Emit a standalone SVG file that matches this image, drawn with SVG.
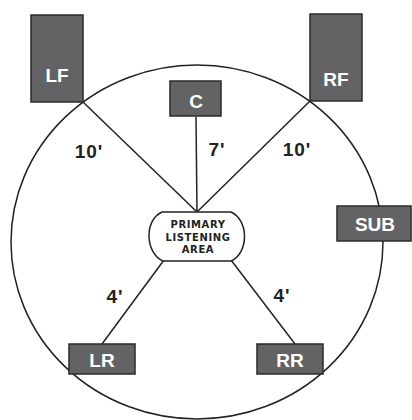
<svg xmlns="http://www.w3.org/2000/svg" width="412" height="420" viewBox="0 0 412 420">
<style>
.spk{fill:#636365;stroke:#2a2a2a;stroke-width:1.5}
.lbl{font-family:"Liberation Sans",Arial,sans-serif;font-weight:bold;font-size:19px;fill:#ffffff;text-anchor:middle}
.dim{font-family:"Liberation Sans",Arial,sans-serif;font-weight:bold;font-size:19px;fill:#222222;text-anchor:middle;letter-spacing:1px}
.ln{stroke:#222222;stroke-width:1.5;fill:none}
.pla{font-family:"DejaVu Sans",sans-serif;font-weight:bold;font-size:10px;fill:#222222;text-anchor:middle;letter-spacing:0.6px}
</style>
<rect width="412" height="420" fill="#ffffff"/>
<ellipse cx="197" cy="242" rx="186" ry="177" class="ln"/>
<g id="connectors">
<line x1="83" y1="102" x2="197" y2="212" class="ln"/>
<line x1="196" y1="117" x2="197" y2="212" class="ln"/>
<line x1="310" y1="101" x2="197" y2="212" class="ln"/>
<line x1="164" y1="260" x2="102" y2="344" class="ln"/>
<line x1="231" y1="260" x2="295" y2="344" class="ln"/>
</g>
<g id="labels">
<text x="89" y="158" class="dim">10'</text>
<text x="217" y="156" class="dim">7'</text>
<text x="297" y="156" class="dim">10'</text>
<text x="115" y="303" class="dim">4'</text>
<text x="282" y="302" class="dim">4'</text>
</g>
<g id="LF"><rect x="31" y="15" width="52" height="87" class="spk"/><text x="57" y="82" class="lbl">LF</text></g>
<g id="RF"><rect x="310" y="14" width="52" height="87" class="spk"/><text x="336" y="86" class="lbl">RF</text></g>
<g id="C"><rect x="170" y="81" width="51" height="35" class="spk"/><text x="196" y="108" class="lbl">C</text></g>
<g id="SUB"><rect x="337" y="206" width="74" height="35" class="spk"/><text x="375" y="231" class="lbl">SUB</text></g>
<g id="LR"><rect x="69" y="344" width="66" height="30" class="spk"/><text x="102" y="367" class="lbl">LR</text></g>
<g id="RR"><rect x="257" y="344" width="66" height="30" class="spk"/><text x="290" y="367" class="lbl">RR</text></g>
<g id="PLA">
<path d="M162,212 H231 C249,220 249,253 231,261 H163 C145,253 144,220 162,212 Z" fill="#ffffff" stroke="#222222" stroke-width="1.5"/>
<text x="198" y="228" class="pla">PRIMARY</text>
<text x="198" y="240.5" class="pla">LISTENING</text>
<text x="198" y="253" class="pla">AREA</text>
</g>
</svg>
